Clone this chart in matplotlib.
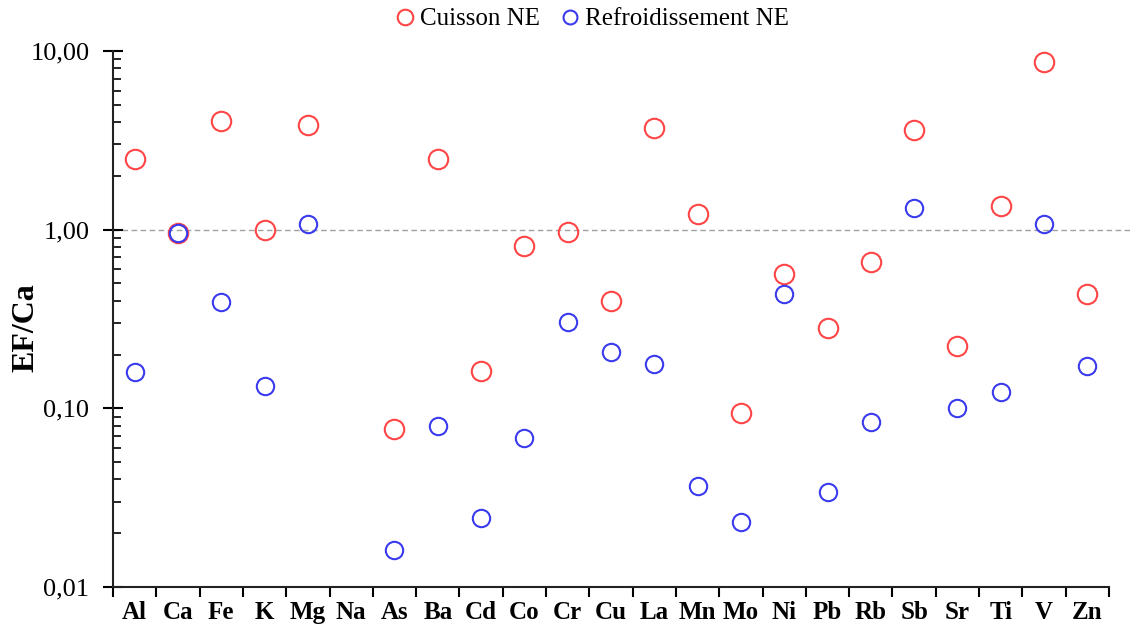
import numpy as np
import matplotlib
matplotlib.use('Agg')
import matplotlib.pyplot as plt
from matplotlib.ticker import FixedLocator, LogLocator, NullFormatter

# elements and enrichment factors (normalised to Ca)
elements = ['Al', 'Ca', 'Fe', 'K', 'Mg', 'Na', 'As', 'Ba', 'Cd', 'Co', 'Cr', 'Cu',
            'La', 'Mn', 'Mo', 'Ni', 'Pb', 'Rb', 'Sb', 'Sr', 'Ti', 'V', 'Zn']
cuisson = [2.50, 0.96, 4.03, 1.00, 3.83, np.nan, 0.077, 2.50, 0.162, 0.81, 0.97, 0.40,
           3.73, 1.23, 0.094, 0.567, 0.282, 0.662, 3.63, 0.224, 1.36, 8.62, 0.438]
refroid = [0.160, 0.96, 0.395, 0.134, 1.08, np.nan, 0.0161, 0.080, 0.0244, 0.0684, 0.305, 0.207,
           0.177, 0.0368, 0.0231, 0.438, 0.034, 0.084, 1.33, 0.1007, 0.124, 1.08, 0.173]
yticks = [0.01, 0.1, 1, 10]
ytick_labels = ['0,01', '0,10', '1,00', '10,00']

plt.rcParams['font.family'] = ['Liberation Serif', 'DejaVu Serif']

fig = plt.figure(figsize=(11.3, 6.34), dpi=100)
ax = fig.add_axes([0.1, 0.0741, 0.8814, 0.8455])

x = np.arange(len(elements))
ax.plot(x, cuisson, 'o', ms=14, mfc='none', mec='#ff4545', mew=1.5, label='Cuisson NE', zorder=3)
ax.plot(x, refroid, 'o', ms=12.5, mfc='none', mec='#3a3aee', mew=1.5, label='Refroidissement NE', zorder=3)

# reference line at 1
ax.axhline(1, xmin=0, xmax=1.022, color='#a0a0a0', ls='--', lw=1, dashes=(4, 2.5), clip_on=False, zorder=1)

ax.set_yscale('log')
ax.set_ylim(0.01, 10)
ax.set_xlim(-0.5, len(elements) - 0.5)

ax.yaxis.set_major_locator(FixedLocator(yticks))
ax.set_yticklabels(ytick_labels, fontsize=19)
ax.yaxis.set_minor_locator(LogLocator(base=10, subs=np.arange(2, 10)))
ax.yaxis.set_minor_formatter(NullFormatter())
ax.tick_params(axis='y', which='major', direction='inout', length=14, width=1.5, pad=10)
ax.tick_params(axis='y', which='minor', direction='in', length=6, width=1.2)

# category ticks at boundaries, labels at centers
ax.set_xticks(np.arange(len(elements) + 1) - 0.5)
ax.set_xticklabels([])
ax.set_xticks(x, minor=True)
ax.set_xticklabels(elements, minor=True, fontsize=18, fontweight='bold')
ax.tick_params(axis='x', which='major', direction='out', length=7, width=1.5)
ax.tick_params(axis='x', which='minor', length=0, pad=10)

for s in ['top', 'right']:
    ax.spines[s].set_visible(False)
for s in ['left', 'bottom']:
    ax.spines[s].set_linewidth(1.5)
    ax.spines[s].set_color('#222222')

fig.text(26 / 1130, 0.484, 'EF/Ca', rotation=90, fontsize=23, fontweight='bold',
         ha='center', va='center')

fig.legend(loc='center', bbox_to_anchor=(0.522, 0.970), ncol=2, frameon=False,
           fontsize=18, handletextpad=0.0, columnspacing=0.6, markerscale=0.8,
           handlelength=1.2)

fig.savefig('out.png', dpi=100)
